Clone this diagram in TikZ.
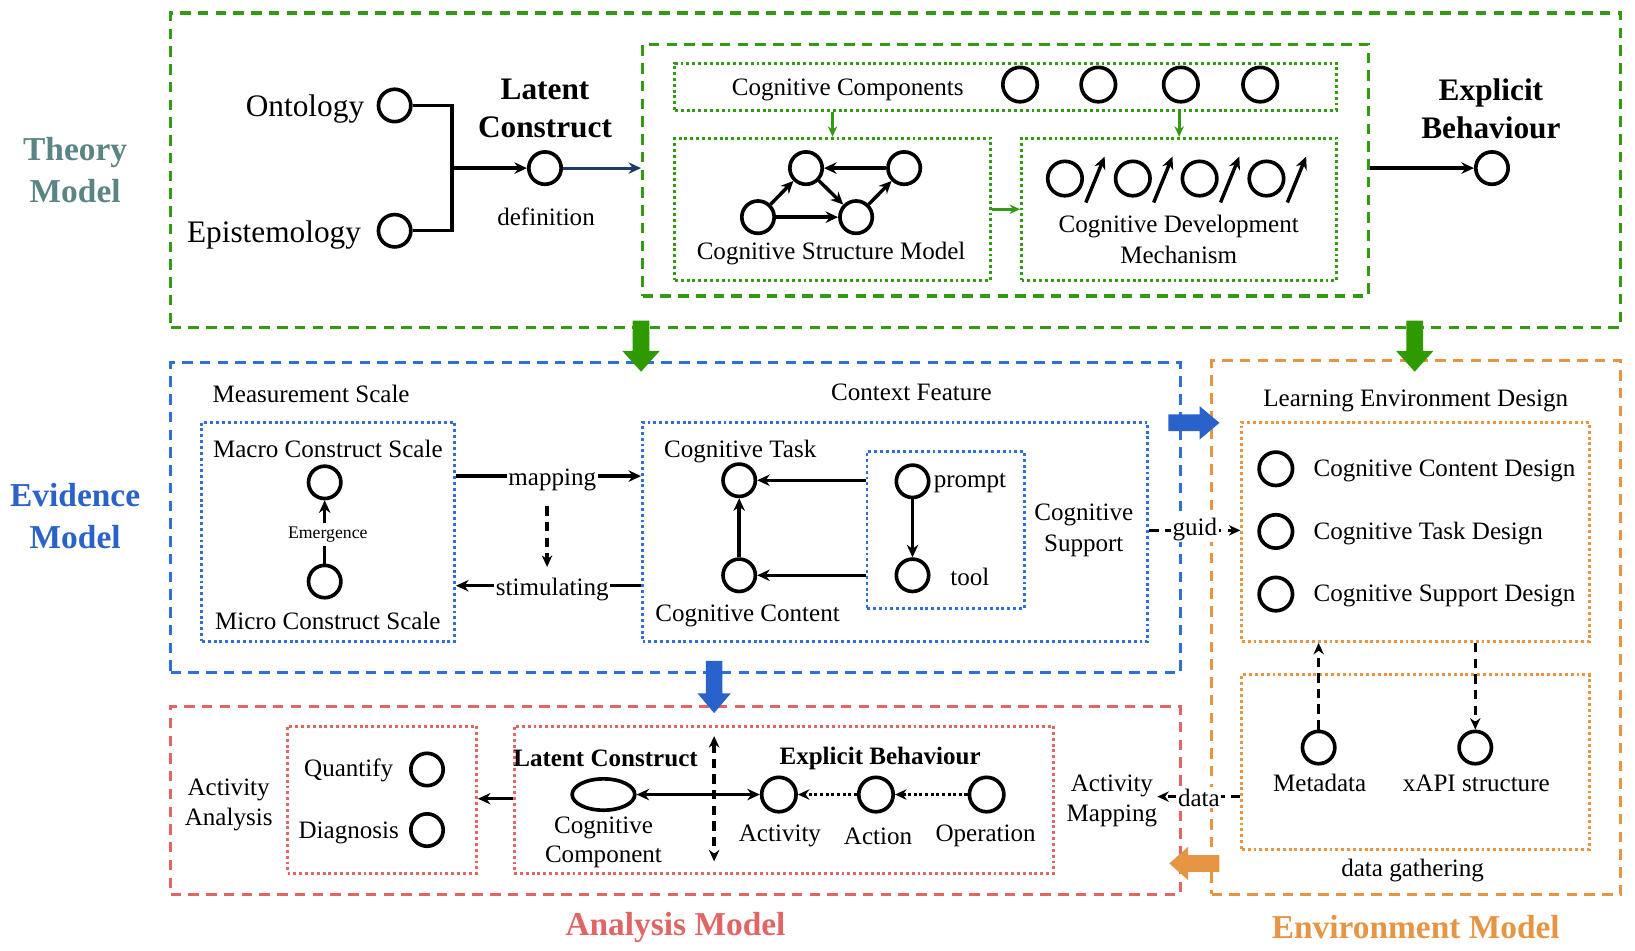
\documentclass[tikz,border=0pt]{standalone}
\usepackage{fontspec}
\setmainfont{Liberation Serif}
\usetikzlibrary{arrows.meta,calc,shapes.geometric}
\definecolor{cgreen}{HTML}{339A14}
\definecolor{cgarrow}{HTML}{2E9A00}
\definecolor{cblue}{HTML}{2F6FD6}
\definecolor{cbarrow}{HTML}{2A62CC}
\definecolor{cred}{HTML}{E06666}
\definecolor{corange}{HTML}{E69545}
\definecolor{cnavy}{HTML}{1F3A6B}
\definecolor{ctheory}{HTML}{5B8585}
\definecolor{cevid}{HTML}{2962C8}
\tikzset{
  txt/.style={font=\fontsize{24}{29}\selectfont, inner sep=0pt, align=center},
  bigtxt/.style={font=\fontsize{30}{36}\selectfont, inner sep=0pt},
  bold30/.style={font=\fontsize{30}{36}\selectfont\bfseries, inner sep=0pt, align=center},
  bold24/.style={font=\fontsize{24}{29}\selectfont\bfseries, inner sep=0pt},
  modlabel/.style={font=\fontsize{32}{40}\selectfont\bfseries, inner sep=0pt, align=center},
  circ/.style={circle, draw, line width=3.5pt, minimum size=31pt, inner sep=0pt},
  ell/.style={ellipse, draw, line width=3.5pt, minimum width=60pt, minimum height=30pt, inner sep=0pt},
  boxbase/.style={rectangle, anchor=north west, inner sep=0pt},
  dashbox/.style={boxbase, draw=#1, line width=3pt, dash pattern=on 10pt off 7pt},
  dotbox/.style={boxbase, draw=#1, line width=2.8pt, dash pattern=on 2.8pt off 2.8pt},
  arr/.style={line width=3.3pt, -{Stealth[length=12pt,width=11pt]}},
  barr/.style={line width=3.3pt, {Stealth[length=12pt,width=11pt]}-{Stealth[length=12pt,width=11pt]}},
  plain/.style={line width=3.3pt},
  darr/.style={line width=3.2pt, dash pattern=on 9pt off 6pt, -{Stealth[length=11pt,width=10pt]}},
  dbarr/.style={line width=3.2pt, dash pattern=on 9pt off 6pt, {Stealth[length=11pt,width=10pt]}-{Stealth[length=11pt,width=10pt]}},
  dotarr/.style={line width=3.3pt, dash pattern=on 3pt off 2.4pt, -{Stealth[length=11pt,width=10pt]}},
  garr/.style={draw=cgreen, line width=2.6pt, -{Stealth[length=10pt,width=9pt]}},
  lab/.style={fill=white, inner sep=1.5pt, font=\fontsize{24}{29}\selectfont},
}
\begin{document}
\begin{tikzpicture}[x=1pt,y=-1pt]
\useasboundingbox (0,0) rectangle (1566,910);
\fill[white] (0,0) rectangle (1566,910);

% ---------- containers ----------
\node[dashbox=cgreen, minimum width=1389pt, minimum height=301pt] (theory) at (162,11) {};
\node[dashbox=cgreen, minimum width=695pt, minimum height=241pt] (tinner) at (614,41) {};
\node[dotbox=cgreen, minimum width=634pt, minimum height=45pt] (ccbox) at (645,59) {};
\node[dotbox=cgreen, minimum width=302pt, minimum height=136pt] (csm) at (645,131) {};
\node[dotbox=cgreen, minimum width=302pt, minimum height=136pt] (cdm) at (977,131) {};
\node[dashbox=cblue, minimum width=967pt, minimum height=297pt] (evid) at (162,346) {};
\node[dotbox=cblue, minimum width=242pt, minimum height=210pt] (macro) at (192,403) {};
\node[dotbox=cblue, minimum width=484pt, minimum height=210pt] (ctx) at (614,403) {};
\node[dotbox=cblue, minimum width=151pt, minimum height=150pt] (supp) at (829,431) {};
\node[dashbox=corange, minimum width=392pt, minimum height=511pt] (env) at (1159,344) {};
\node[dotbox=corange, minimum width=333pt, minimum height=210pt] (led) at (1188,403) {};
\node[dotbox=corange, minimum width=333pt, minimum height=167pt] (dg) at (1188,645) {};
\node[dashbox=cred, minimum width=967pt, minimum height=180pt] (anal) at (162,675) {};
\node[dotbox=cred, minimum width=181pt, minimum height=141pt] (qd) at (274,694) {};
\node[dotbox=cred, minimum width=517pt, minimum height=141pt] (lce) at (491,694) {};

% ---------- model labels ----------
\node[modlabel, text=ctheory] (tml) at (72,163) {Theory\\Model};
\node[modlabel, text=cevid] (eml) at (72,494) {Evidence\\Model};
\node[modlabel, text=cred] (aml) at (647,888) {Analysis Model};
\node[modlabel, text=corange] (enml) at (1356,888) {Environment Model};

% ---------- theory model ----------
\node[bigtxt, anchor=east] (ontt) at (349,104) {Ontology};
\node[bigtxt, anchor=east] (epit) at (346,225) {Epistemology};
\node[circ] (ont) at (378,101) {};
\node[circ] (epi) at (378,221) {};
\node[circ] (lat) at (522,161) {};
\node[bold30] (latt) at (522,104) {Latent\\Construct};
\node[txt] (deft) at (523,208) {definition};
\coordinate (jn) at (433,161);
\draw[plain] (ont.east) -| (jn) |- (epi.east);
\draw[arr] (jn) -- (lat.west);
\draw[arr, cnavy, line width=2.8pt] (lat.east) -- (tinner.west |- lat);

\node[txt] (cct) at (812,86) {Cognitive Components};
\node[circ, minimum height=33pt] (k1) at (977,81) {};
\node[circ, minimum height=33pt] (k2) at (1052,81) {};
\node[circ, minimum height=33pt] (k3) at (1131,81) {};
\node[circ, minimum height=33pt] (k4) at (1207,81) {};
\draw[garr] (ccbox.south -| csm.north) -- (csm.north);
\draw[garr] (ccbox.south -| cdm.north) -- (cdm.north);
\draw[garr] (csm.east) -- (cdm.west);

\node[circ] (ga) at (772,161) {};
\node[circ] (gb) at (866,161) {};
\node[circ] (gc) at (726,208) {};
\node[circ] (gd) at (820,208) {};
\draw[arr] (gb) -- (ga);
\draw[arr] (gc) -- (ga);
\draw[arr] (ga) -- (gd);
\draw[arr] (gc) -- (gd);
\draw[arr] (gd) -- (gb);
\node[txt] (csmt) at (796,243) {Cognitive Structure Model};

\foreach \i/\x in {1/1020,2/1085,3/1149,4/1213}{
  \node[circ, minimum height=33pt] (m\i) at (\x,171) {};
  \coordinate (ms\i) at (\x+20,194);
  \coordinate (me\i) at (\x+38,150);
  \draw[arr] (ms\i) -- (me\i);
}
\node[txt, font=\fontsize{24}{30}\selectfont] (cdmt) at (1129,229) {Cognitive Development\\Mechanism};

\node[circ] (eb) at (1429,161) {};
\node[bold30] (ebt) at (1428,104) {Explicit\\Behaviour};
\draw[arr] (tinner.east |- eb) -- (eb.west);

% ---------- evidence model ----------
\node[txt] (mst) at (298,377) {Measurement Scale};
\node[txt] (mact) at (314,430) {Macro Construct Scale};
\node[circ] (mac) at (311,462) {};
\node[font=\fontsize{17}{20}\selectfont, inner sep=3pt] (emer) at (314,512) {Emergence};
\node[circ] (mic) at (311,557) {};
\node[txt] (mict) at (314,595) {Micro Construct Scale};
\draw[plain] (mic.north) -- (mic.north |- emer.south);
\draw[arr] (mac.south |- emer.north) -- (mac.south);

\coordinate (my) at (0,456);
\coordinate (sy) at (0,561);
\draw[arr] (macro.east |- my) -- node[lab, pos=0.52, yshift=-4pt]{mapping} (ctx.west |- my);
\draw[arr] (ctx.west |- sy) -- node[lab, pos=0.48, yshift=-4pt]{stimulating} (macro.east |- sy);
\coordinate (dd1) at (524,485);
\coordinate (dd2) at (524,543);
\draw[darr] (dd1) -- (dd2);

\node[txt] (cft) at (873,376) {Context Feature};
\node[txt] (ctt) at (709,432) {Cognitive Task};
\node[circ] (task) at (708,460) {};
\node[circ] (cont) at (708,551) {};
\node[txt] (cctt) at (716,590) {Cognitive Content};
\node[circ] (prm) at (874,461) {};
\node[circ] (tool) at (874,551) {};
\node[txt] (prmt) at (929,463) {prompt};
\node[txt] (toolt) at (929,553) {tool};
\draw[arr] (supp.west |- task) -- (task.east);
\draw[arr] (supp.west |- cont) -- (cont.east);
\draw[arr] (cont.north) -- (task.south);
\draw[arr] (prm.south) -- (tool.north);
\node[txt, font=\fontsize{24}{30}\selectfont] (cst) at (1038,508) {Cognitive\\Support};

\coordinate (gy) at (0,508);
\draw[darr] (ctx.east |- gy) -- node[lab, pos=0.5, yshift=1pt]{guid} (led.west |- gy);

% ---------- environment model ----------
\node[txt] (ledt) at (1356,384) {Learning Environment Design};
\node[circ, minimum size=32pt] (d1) at (1222,449) {};
\node[circ, minimum size=32pt] (d2) at (1222,509) {};
\node[circ, minimum size=32pt] (d3) at (1222,569) {};
\node[txt, anchor=west] (d1t) at (1258,451) {Cognitive Content Design};
\node[txt, anchor=west] (d2t) at (1258,511) {Cognitive Task Design};
\node[txt, anchor=west] (d3t) at (1258,571) {Cognitive Support Design};
\node[circ] (meta) at (1263,716) {};
\node[circ] (xapi) at (1413,716) {};
\node[txt] (metat) at (1264,750) {Metadata};
\node[txt] (xapit) at (1414,750) {xAPI structure};
\node[txt] (dgt) at (1353,834) {data gathering};
\draw[darr] (meta.north) -- (led.south -| meta);
\draw[darr] (led.south -| xapi) -- (xapi.north);

\node[txt, font=\fontsize{24}{29}\selectfont] (amap) at (1065,767) {Activity\\Mapping};
\coordinate (dy) at (0,763);
\draw[darr] (dg.west |- dy) -- node[lab, pos=0.5, yshift=-1pt]{data} (amap.east |- dy);

% ---------- analysis model ----------
\node[txt, font=\fontsize{24}{29}\selectfont] (aat) at (219,771) {Activity\\Analysis};
\node[txt] (qt) at (334,738) {Quantify};
\node[circ] (qc) at (409,737) {};
\node[txt] (dt) at (334,798) {Diagnosis};
\node[circ] (dc) at (409,795) {};
\coordinate (ay) at (0,765);
\draw[arr] (lce.west |- ay) -- (qd.east |- ay);

\node[bold24] (lct) at (580,726) {Latent Construct};
\node[ell] (ccomp) at (578,761) {};
\node[txt, font=\fontsize{24}{28}\selectfont] (ccompt) at (578,807) {Cognitive\\Component};
\node[bold24] (ebt2) at (843,726) {Explicit Behaviour};
\node[circ, minimum height=33pt] (act) at (746,761) {};
\node[circ, minimum height=33pt] (acn) at (839,761) {};
\node[circ, minimum height=33pt] (opr) at (945,761) {};
\node[txt] (actt) at (747,801) {Activity};
\node[txt] (acnt) at (841,801) {Action};
\node[txt] (oprt) at (944,801) {Operation};
\draw[barr] (ccomp.east) -- (act.west);
\coordinate (v1) at (684,705);
\coordinate (v2) at (684,825);
\draw[dbarr] (v1) -- (v2);
\draw[dotarr] (opr.west) -- (acn.east);
\draw[dotarr] (acn.west) -- (act.east);

% ---------- block arrows ----------
\fill[cgarrow] (606,307) -- (622,307) -- (622,336) -- (632,336) -- (614,356) -- (596,336) -- (606,336) -- cycle;
\fill[cgarrow] (1347,307) -- (1363,307) -- (1363,336) -- (1373,336) -- (1355,356) -- (1337,336) -- (1347,336) -- cycle;
\fill[cbarrow] (1119,397) -- (1149,397) -- (1149,389) -- (1168,405) -- (1149,421) -- (1149,413) -- (1119,413) -- cycle;
\fill[cbarrow] (676,633) -- (692,633) -- (692,664) -- (700,664) -- (684,683) -- (668,664) -- (676,664) -- cycle;
\fill[corange] (1168,819) -- (1138,819) -- (1138,811) -- (1120,827) -- (1138,843) -- (1138,835) -- (1168,835) -- cycle;
\end{tikzpicture}
\end{document}
